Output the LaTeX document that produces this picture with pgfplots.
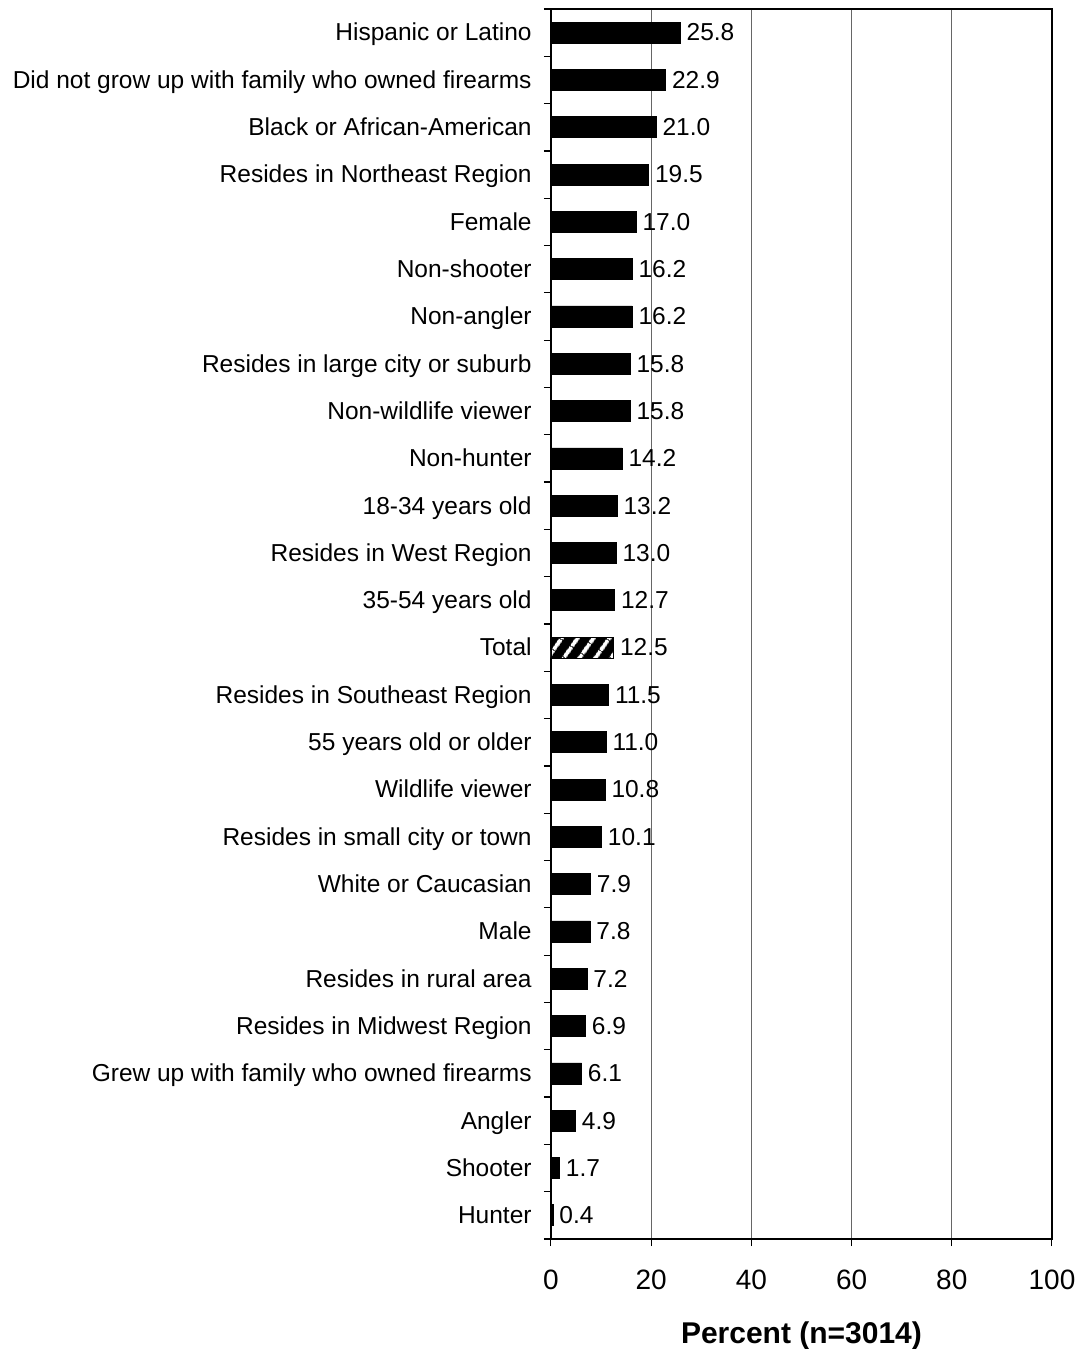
\documentclass[border=0pt]{standalone}
\usepackage{pgfplots}
\pgfplotsset{compat=1.18}
\usepackage{fontspec}
\setmainfont{Liberation Sans}
\usetikzlibrary{patterns.meta}
\begin{document}
\begin{tikzpicture}
\path[use as bounding box] (-275.5pt,-55pt) rectangle (266pt,619.5pt);
\begin{axis}[
  at={(0,0)}, anchor=south west,
  scale only axis, width=250.5pt, height=615pt,
  xbar, bar width=10.5pt, bar shift=0pt,
  xmin=0, xmax=100, ymin=-0.5, ymax=25.5,
  xtick={0,20,...,100},
  ytick={0,...,25},
  minor ytick={-0.5,0.5,...,25.5},
  yticklabels={Hunter,Shooter,Angler,Grew up with family who owned firearms,Resides in Midwest Region,Resides in rural area,Male,White or Caucasian,Resides in small city or town,Wildlife viewer,55 years old or older,Resides in Southeast Region,Total,35-54 years old,Resides in West Region,18-34 years old,Non-hunter,Non-wildlife viewer,Resides in large city or suburb,Non-angler,Non-shooter,Female,Resides in Northeast Region,Black or African-American,Did not grow up with family who owned firearms,Hispanic or Latino},
  tick pos=left, tick align=outside,
  major tick length=3.5pt, minor tick length=3.5pt,
  major y tick style={draw=none},
  minor y tick style={draw=black, line width=0.6pt},
  major x tick style={draw=black, line width=0.5pt},
  xmajorgrids, major x grid style={gray!80!black, line width=0.5pt},
  axis line style={line width=0.9pt},
  /pgf/number format/assume math mode=true,
  yticklabel style={font=\fontsize{12.25}{14}\selectfont, inner sep=0pt, anchor=mid east, xshift=-6pt, yshift=-1.5pt},
  xticklabel style={font=\fontsize{14}{16}\selectfont, inner sep=0pt, yshift=-12pt},
  xlabel={\textbf{Percent (n=3014)}},
  xlabel style={font=\fontsize{15}{18}\selectfont, inner sep=0pt, yshift=-15.5pt},
]
\addplot[fill=black, draw=black, point meta=x,
  nodes near coords={\pgfmathprintnumber[fixed,fixed zerofill,precision=1]{\pgfplotspointmeta}},
  nodes near coords style={font=\fontsize{12.25}{14}\selectfont, anchor=mid west, inner sep=0pt, xshift=3pt, yshift=-1.5pt, text=black}]
  table[x=v, y=y] {
y v
0 0.4
1 1.7
2 4.9
3 6.1
4 6.9
5 7.2
6 7.8
7 7.9
8 10.1
9 10.8
10 11.0
11 11.5
12 12.5
13 12.7
14 13.0
15 13.2
16 14.2
17 15.8
18 15.8
19 16.2
20 16.2
21 17.0
22 19.5
23 21.0
24 22.9
25 25.8
};
\addplot[fill=black, draw=black, postaction={pattern={Lines[angle=55,distance=6.5pt,line width=2pt]}, pattern color=white}] table[x=v, y=y] {
y v
12 12.5
};
\end{axis}
\end{tikzpicture}
\end{document}
